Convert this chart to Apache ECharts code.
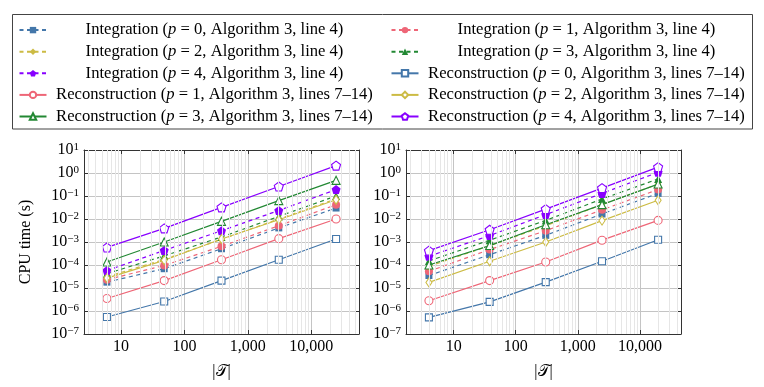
<!DOCTYPE html>
<html>
<head>
<meta charset="utf-8">
<script src="https://cdn.jsdelivr.net/npm/echarts@6/dist/echarts.min.js"></script>
<style>
  html, body { margin: 0; padding: 0; background: #fff; }
  #chart { width: 764px; height: 387px; }
</style>
</head>
<body>
<div id="chart"></div>
<script>
  // mesh sizes |T|
  const cellsLeft = [6, 48, 384, 3072, 24576];
  const cellsRight = [4, 38, 304, 2450, 19600];

  // CPU time (s), left panel
  const intLeft = [
    [1.8e-5, 6.9e-5, 5.1e-4, 4.1e-3, 3.0e-2],
    [2.3e-5, 9.6e-5, 6.5e-4, 5.1e-3, 4.2e-2],
    [3.1e-5, 1.75e-4, 1.3e-3, 1.0e-2, 7.5e-2],
    [4.2e-5, 2.5e-4, 1.65e-3, 1.3e-2, 1.0e-1],
    [5.7e-5, 4.3e-4, 3.1e-3, 2.35e-2, 1.9e-1]
  ];
  const recLeft = [
    [5.5e-7, 2.6e-6, 2.1e-5, 1.7e-4, 1.35e-3],
    [3.5e-6, 2.1e-5, 1.7e-4, 1.4e-3, 1.0e-2],
    [2.7e-5, 1.6e-4, 1.35e-3, 9.3e-3, 6.9e-2],
    [1.35e-4, 1.0e-3, 7.9e-3, 6.3e-2, 0.48],
    [5.8e-4, 3.9e-3, 3.2e-2, 0.26, 2.1]
  ];

  // CPU time (s), right panel
  const intRight = [
    [3.5e-5, 2.8e-4, 1.95e-3, 1.65e-2, 0.13],
    [5.3e-5, 4.7e-4, 3.1e-3, 2.5e-2, 0.19],
    [8.7e-5, 6.9e-4, 5.1e-3, 4.2e-2, 0.33],
    [1.5e-4, 1.2e-3, 8.7e-3, 7.4e-2, 0.55],
    [2.4e-4, 1.9e-3, 1.55e-2, 0.13, 1.07]
  ];
  const recRight = [
    [5.3e-7, 2.5e-6, 1.8e-5, 1.45e-4, 1.26e-3],
    [2.8e-6, 2.1e-5, 1.35e-4, 1.2e-3, 8.7e-3],
    [1.75e-5, 1.45e-4, 1.0e-3, 8.5e-3, 6.5e-2],
    [1.0e-4, 7.0e-4, 5.6e-3, 4.2e-2, 0.33],
    [4.2e-4, 3.4e-3, 2.7e-2, 0.22, 1.8]
  ];

  const colors = ['#4477aa', '#ee6677', '#ccbb44', '#228833', '#8800ff'];
  const pentagon = 'path://M50,0 L97.6,34.5 L79.4,90.5 L20.6,90.5 L2.4,34.5 Z';
  const symbols = ['rect', 'circle', 'diamond', 'triangle', pentagon];
  const symSizes = [7, 8, [6, 9], 8, 9];

  const serif = 'Liberation Serif';

  const intName = p => '{t|Integration (}{i|p}{t| = ' + p + ', Algorithm 3, line 4)}';
  const recName = p => '{t|Reconstruction (}{i|p}{t| = ' + p + ', Algorithm 3, lines 7–14)}';
  const intNames = [0, 1, 2, 3, 4].map(p => 'int' + p);
  const recNames = [0, 1, 2, 3, 4].map(p => 'rec' + p);

  const chart = echarts.init(document.getElementById('chart'));

  function pairs(xs, ys) {
    return xs.map((x, i) => [x, ys[i]]);
  }

  function makeSeries(axisIdx, xs, ints, recs) {
    const out = [];
    ints.forEach((ys, p) => {
      out.push({
        name: intNames[p],
        type: 'line',
        xAxisIndex: axisIdx,
        yAxisIndex: axisIdx,
        data: pairs(xs, ys),
        symbol: symbols[p],
        symbolSize: symSizes[p],
        lineStyle: { color: colors[p], width: 1.2, type: [4, 3.5] },
        itemStyle: { color: colors[p] }
      });
    });
    recs.forEach((ys, p) => {
      out.push({
        name: recNames[p],
        type: 'line',
        xAxisIndex: axisIdx,
        yAxisIndex: axisIdx,
        data: pairs(xs, ys),
        symbol: symbols[p],
        symbolSize: symSizes[p],
        lineStyle: { color: colors[p], width: 1.2 },
        itemStyle: { color: '#fff', borderColor: colors[p], borderWidth: 1.1 }
      });
    });
    return out;
  }

  // light minor grid at 2..9 x 10^k
  function minorLines(axisIdx, lo, hi) {
    const data = [];
    for (let k = 0; k <= 4; k++) {
      for (let m = 2; m <= 9; m++) {
        const v = m * Math.pow(10, k);
        if (v > lo && v < hi) data.push({ xAxis: v });
      }
    }
    return {
      type: 'line',
      xAxisIndex: axisIdx,
      yAxisIndex: axisIdx,
      data: [],
      z: 1,
      silent: true,
      markLine: {
        silent: true,
        symbol: 'none',
        label: { show: false },
        lineStyle: { color: '#e6e6e6', width: 1, type: 'solid' },
        data: data
      }
    };
  }

  const xRanges = [[2.612, 56470], [1.71, 45800]];

  function xFmt(v) {
    const l = Math.log10(v);
    if (Math.abs(l - Math.round(l)) > 1e-6) return '';
    return Math.round(v).toLocaleString('en-US');
  }
  function yFmt(v) {
    const l = Math.round(Math.log10(v));
    if (Math.abs(Math.log10(v) - l) > 1e-6) return '';
    return '{b|10}{s|' + String(l).replace('-', '−') + '}';
  }

  const labelFont = { fontFamily: serif, fontSize: 16, color: '#000' };

  function xAxisDef(g, top) {
    return {
      type: 'log',
      logBase: 10,
      gridIndex: g,
      position: top ? 'top' : 'bottom',
      min: xRanges[g][0],
      max: xRanges[g][1],
      splitNumber: 4,
      name: top ? '' : '|𝒯|',
      nameLocation: 'middle',
      nameGap: 30,
      nameTextStyle: { fontFamily: serif, fontSize: 16, color: '#000' },
      axisLine: { show: true, lineStyle: { color: '#333', width: 1 } },
      axisTick: { show: true, inside: true, length: 4, lineStyle: { color: '#333' } },
      axisLabel: top ? { show: false } : Object.assign({ formatter: xFmt, margin: 5 }, labelFont),
      splitLine: top ? { show: false } : { show: true, showMinLine: false, showMaxLine: false, lineStyle: { color: '#c4c4c4', width: 1 } }
    };
  }

  function yAxisDef(g, right) {
    return {
      type: 'log',
      logBase: 10,
      gridIndex: g,
      position: right ? 'right' : 'left',
      min: 1e-7,
      max: 10,
      splitNumber: 8,
      name: (!right && g === 0) ? 'CPU time (s)' : '',
      nameLocation: 'middle',
      nameGap: 50,
      nameTextStyle: { fontFamily: serif, fontSize: 16, color: '#000' },
      axisLine: { show: true, lineStyle: { color: '#333', width: 1 } },
      axisTick: { show: true, inside: true, length: 4, lineStyle: { color: '#333' } },
      axisLabel: right ? { show: false } : {
        formatter: yFmt,
        margin: 5,
        rich: {
          b: { fontFamily: serif, fontSize: 16, color: '#000', lineHeight: 16, verticalAlign: 'middle' },
          s: { fontFamily: serif, fontSize: 11, color: '#000', lineHeight: 16, verticalAlign: 'top' }
        }
      },
      splitLine: right ? { show: false } : { show: true, showMinLine: false, showMaxLine: false, lineStyle: { color: '#c4c4c4', width: 1 } }
    };
  }

  const legendRich = {
    t: { fontFamily: serif, fontSize: 16.6, lineHeight: 16, color: '#000', align: 'center' },
    i: { fontFamily: serif, fontSize: 16.6, lineHeight: 16, color: '#000', fontStyle: 'italic', align: 'center' }
  };
  const nameMap = {};
  [0, 1, 2, 3, 4].forEach(p => { nameMap[intNames[p]] = intName(p); nameMap[recNames[p]] = recName(p); });

  function legendDef(left, names) {
    return {
      orient: 'vertical',
      left: left,
      top: 21.6,
      itemWidth: 27,
      itemHeight: 8,
      itemGap: 4.6,
      selectedMode: false,
      padding: 0,
      data: names,
      formatter: n => nameMap[n],
      textStyle: { width: 326, lineHeight: 16, rich: legendRich }
    };
  }

  const option = {
    animation: false,
    backgroundColor: '#fff',
    grid: [
      { left: 84, top: 150, width: 275, height: 184, show: false },
      { left: 406, top: 150, width: 275, height: 184, show: false }
    ],
    legend: [
      legendDef(18.5, ['int0', 'int2', 'int4', 'rec1', 'rec3']),
      legendDef(390.5, ['int1', 'int3', 'rec0', 'rec2', 'rec4'])
    ],
    graphic: [{
      type: 'rect',
      shape: { x: 12.5, y: 14.5, width: 740, height: 114.5 },
      style: { fill: 'none', stroke: '#444', lineWidth: 1 }
    }],
    xAxis: [xAxisDef(0, false), xAxisDef(1, false), xAxisDef(0, true), xAxisDef(1, true)],
    yAxis: [yAxisDef(0, false), yAxisDef(1, false), yAxisDef(0, true), yAxisDef(1, true)],
    series: [
      minorLines(0, xRanges[0][0], xRanges[0][1]),
      minorLines(1, xRanges[1][0], xRanges[1][1])
    ].concat(makeSeries(0, cellsLeft, intLeft, recLeft), makeSeries(1, cellsRight, intRight, recRight))
  };

  chart.setOption(option);
</script>
</body>
</html>
